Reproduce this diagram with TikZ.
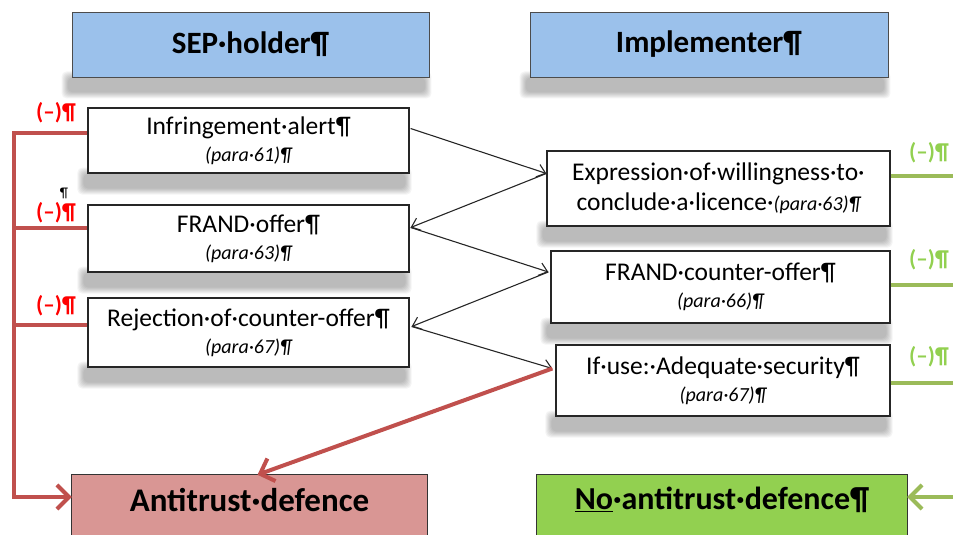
\documentclass[tikz,border=0pt]{standalone}
\usepackage{fontspec}
\setmainfont{Carlito}
\usetikzlibrary{arrows.meta,calc,backgrounds}
\definecolor{hdrblue}{RGB}{155,193,235}
\definecolor{antired}{RGB}{217,150,148}
\definecolor{nogreen}{RGB}{146,208,80}
\definecolor{lred}{RGB}{192,80,77}
\definecolor{lgreen}{RGB}{155,187,89}
\definecolor{labgreen}{RGB}{146,208,80}
\newcommand\pararef[1]{{\fontsize{20}{27}\selectfont\itshape (para·#1)¶}}
\newcommand\softshadow[1]{%
  \foreach \k in {0,...,6}{%
    \fill[black,opacity=0.045,rounded corners=5pt]
      ($(#1.south west)+(\k-10,\k-6)$) rectangle ($(#1.south east)+(2-\k,21-\k)$);}}
\begin{document}
\begin{tikzpicture}[x=1pt,y=-1pt,
  hdr/.style={draw=black!70, line width=0.9pt, fill=hdrblue, inner sep=0pt,
    font=\bfseries\fontsize{31}{34}\selectfont},
  wbox/.style={draw=black!85, line width=1.3pt, fill=white, align=center, inner sep=0pt,
    font=\fontsize{25.5}{27}\selectfont},
  bottomtext/.style={inner sep=0pt, font=\bfseries\fontsize{33}{36}\selectfont},
  redln/.style={draw=lred, line width=4pt},
  grnln/.style={draw=lgreen, line width=4pt},
  blk/.style={draw=black!85, line width=1.1pt, -{Straight Barb[length=8pt,width=13pt]}},
  redarr/.style={redln, -{Straight Barb[length=12pt,width=24pt]}},
  grnarr/.style={grnln, -{Straight Barb[length=12pt,width=24pt]}},
  redlab/.style={text=red, inner sep=0pt, font=\bfseries\fontsize{23}{25}\selectfont},
  grnlab/.style={text=labgreen, inner sep=0pt, font=\bfseries\fontsize{23}{25}\selectfont},
]
\clip (0,0) rectangle (953,535);

% headers
\node[hdr, minimum width=357pt, minimum height=65pt] (sep) at (250.5,44.5) {SEP·holder¶};
\node[hdr, minimum width=358pt, minimum height=65pt] (impl) at (709,44.5) {Implementer¶};

% left column
\node[wbox, minimum width=321pt, minimum height=65pt] (infr) at (248.5,140.5)
  {Infringement·alert¶\\\pararef{61}};
\node[wbox, minimum width=321pt, minimum height=67pt] (frand) at (248.5,238.5)
  {FRAND·offer¶\\\pararef{63}};
\node[wbox, minimum width=321pt, minimum height=69pt] (reject) at (248.5,332.5)
  {Rejection·of·counter-offer¶\\\pararef{67}};

% right column
\node[wbox, minimum width=343pt, minimum height=75pt, font=\fontsize{25.5}{30}\selectfont] (expr) at (718.5,188.5)
  {Expression·of·willingness·to·\\conclude·a·licence·\pararef{63}};
\node[wbox, minimum width=339pt, minimum height=72pt] (counter) at (720.5,287)
  {FRAND·counter-offer¶\\\pararef{66}};
\node[wbox, minimum width=334pt, minimum height=71pt] (ifuse) at (723,380.5)
  {If·use:·Adequate·security¶\\\pararef{67}};

% bottom
\node[bottomtext, minimum width=355pt, minimum height=50pt] (anti) at (249.5,500) {Antitrust·defence};
\node[bottomtext, minimum width=370pt, minimum height=50pt, font=\bfseries\fontsize{32}{36}\selectfont] (noanti) at (722,500) {\underline{No}·antitrust·defence¶};

\begin{scope}[on background layer]
  \softshadow{sep}
  \softshadow{impl}
  \softshadow{infr}
  \softshadow{frand}
  \softshadow{reject}
  \softshadow{expr}
  \softshadow{counter}
  \softshadow{ifuse}
  \filldraw[fill=antired, draw=black!80, line width=1pt] (anti.north west) rectangle ($(anti.south east)+(0,30)$);
  \filldraw[fill=nogreen, draw=black!80, line width=1pt] (noanti.north west) rectangle ($(noanti.south east)+(0,30)$);
\end{scope}

% ports
\coordinate (a1) at ($(infr.east)+(1,-12)$);
\coordinate (b1) at ($(expr.west)+(0,-15)$);
\coordinate (a2) at ($(frand.east)+(1,-11)$);
\coordinate (b2) at ($(counter.west)+(-2,-15)$);
\coordinate (a3) at ($(reject.east)+(2,-6)$);
\coordinate (b3) at ($(ifuse.west)+(-3,-12)$);

% black zig-zag arrows
\draw[blk] (a1) -- (b1);
\draw[blk] (b1) -- (a2);
\draw[blk] (a2) -- (b2);
\draw[blk] (b2) -- (a3);
\draw[blk] (a3) -- (b3);

% red arrow to antitrust defence
\draw[redarr] (b3) -- ($(anti.north)+(8,0)$);

% left red trunk and branches
\coordinate (t1) at ($(infr.west)+(-73,-8)$);
\coordinate (t2) at ($(frand.west)+(0,-11)$);
\coordinate (t3) at ($(reject.west)+(0,-8)$);
\draw[redarr, line join=miter] (t1 -| infr.west) -- (t1) |- ($(anti.west)+(0,-3)$);
\draw[redln] (t1 |- t2) -- (t2);
\draw[redln] (t1 |- t3) -- (t3);

% red labels
\node[redlab] (rl1) at (56,113) {(–)¶};
\node[redlab] (rl2) at (56,213) {(–)¶};
\node[redlab] (rl3) at (56,306) {(–)¶};
\node[inner sep=0pt, font=\fontsize{14}{15}\selectfont] (pil) at (64,193) {¶};

% green lines and labels
\coordinate (redge) at (960,0);
\coordinate (g1) at ($(expr.east)+(0,-13)$);
\coordinate (g2) at ($(counter.east)+(0,-2)$);
\coordinate (g3) at ($(ifuse.east)+(0,2)$);
\draw[grnln] (g1) -- (g1 -| redge);
\draw[grnln] (g2) -- (g2 -| redge);
\draw[grnln] (g3) -- (g3 -| redge);
\draw[grnarr] ($(redge |- noanti.east)+(0,-3)$) -- ($(noanti.east)+(0,-3)$);
\node[grnlab] (gl1) at (929,153) {(–)¶};
\node[grnlab] (gl2) at (929,260) {(–)¶};
\node[grnlab] (gl3) at (929,357) {(–)¶};
\end{tikzpicture}
\end{document}
